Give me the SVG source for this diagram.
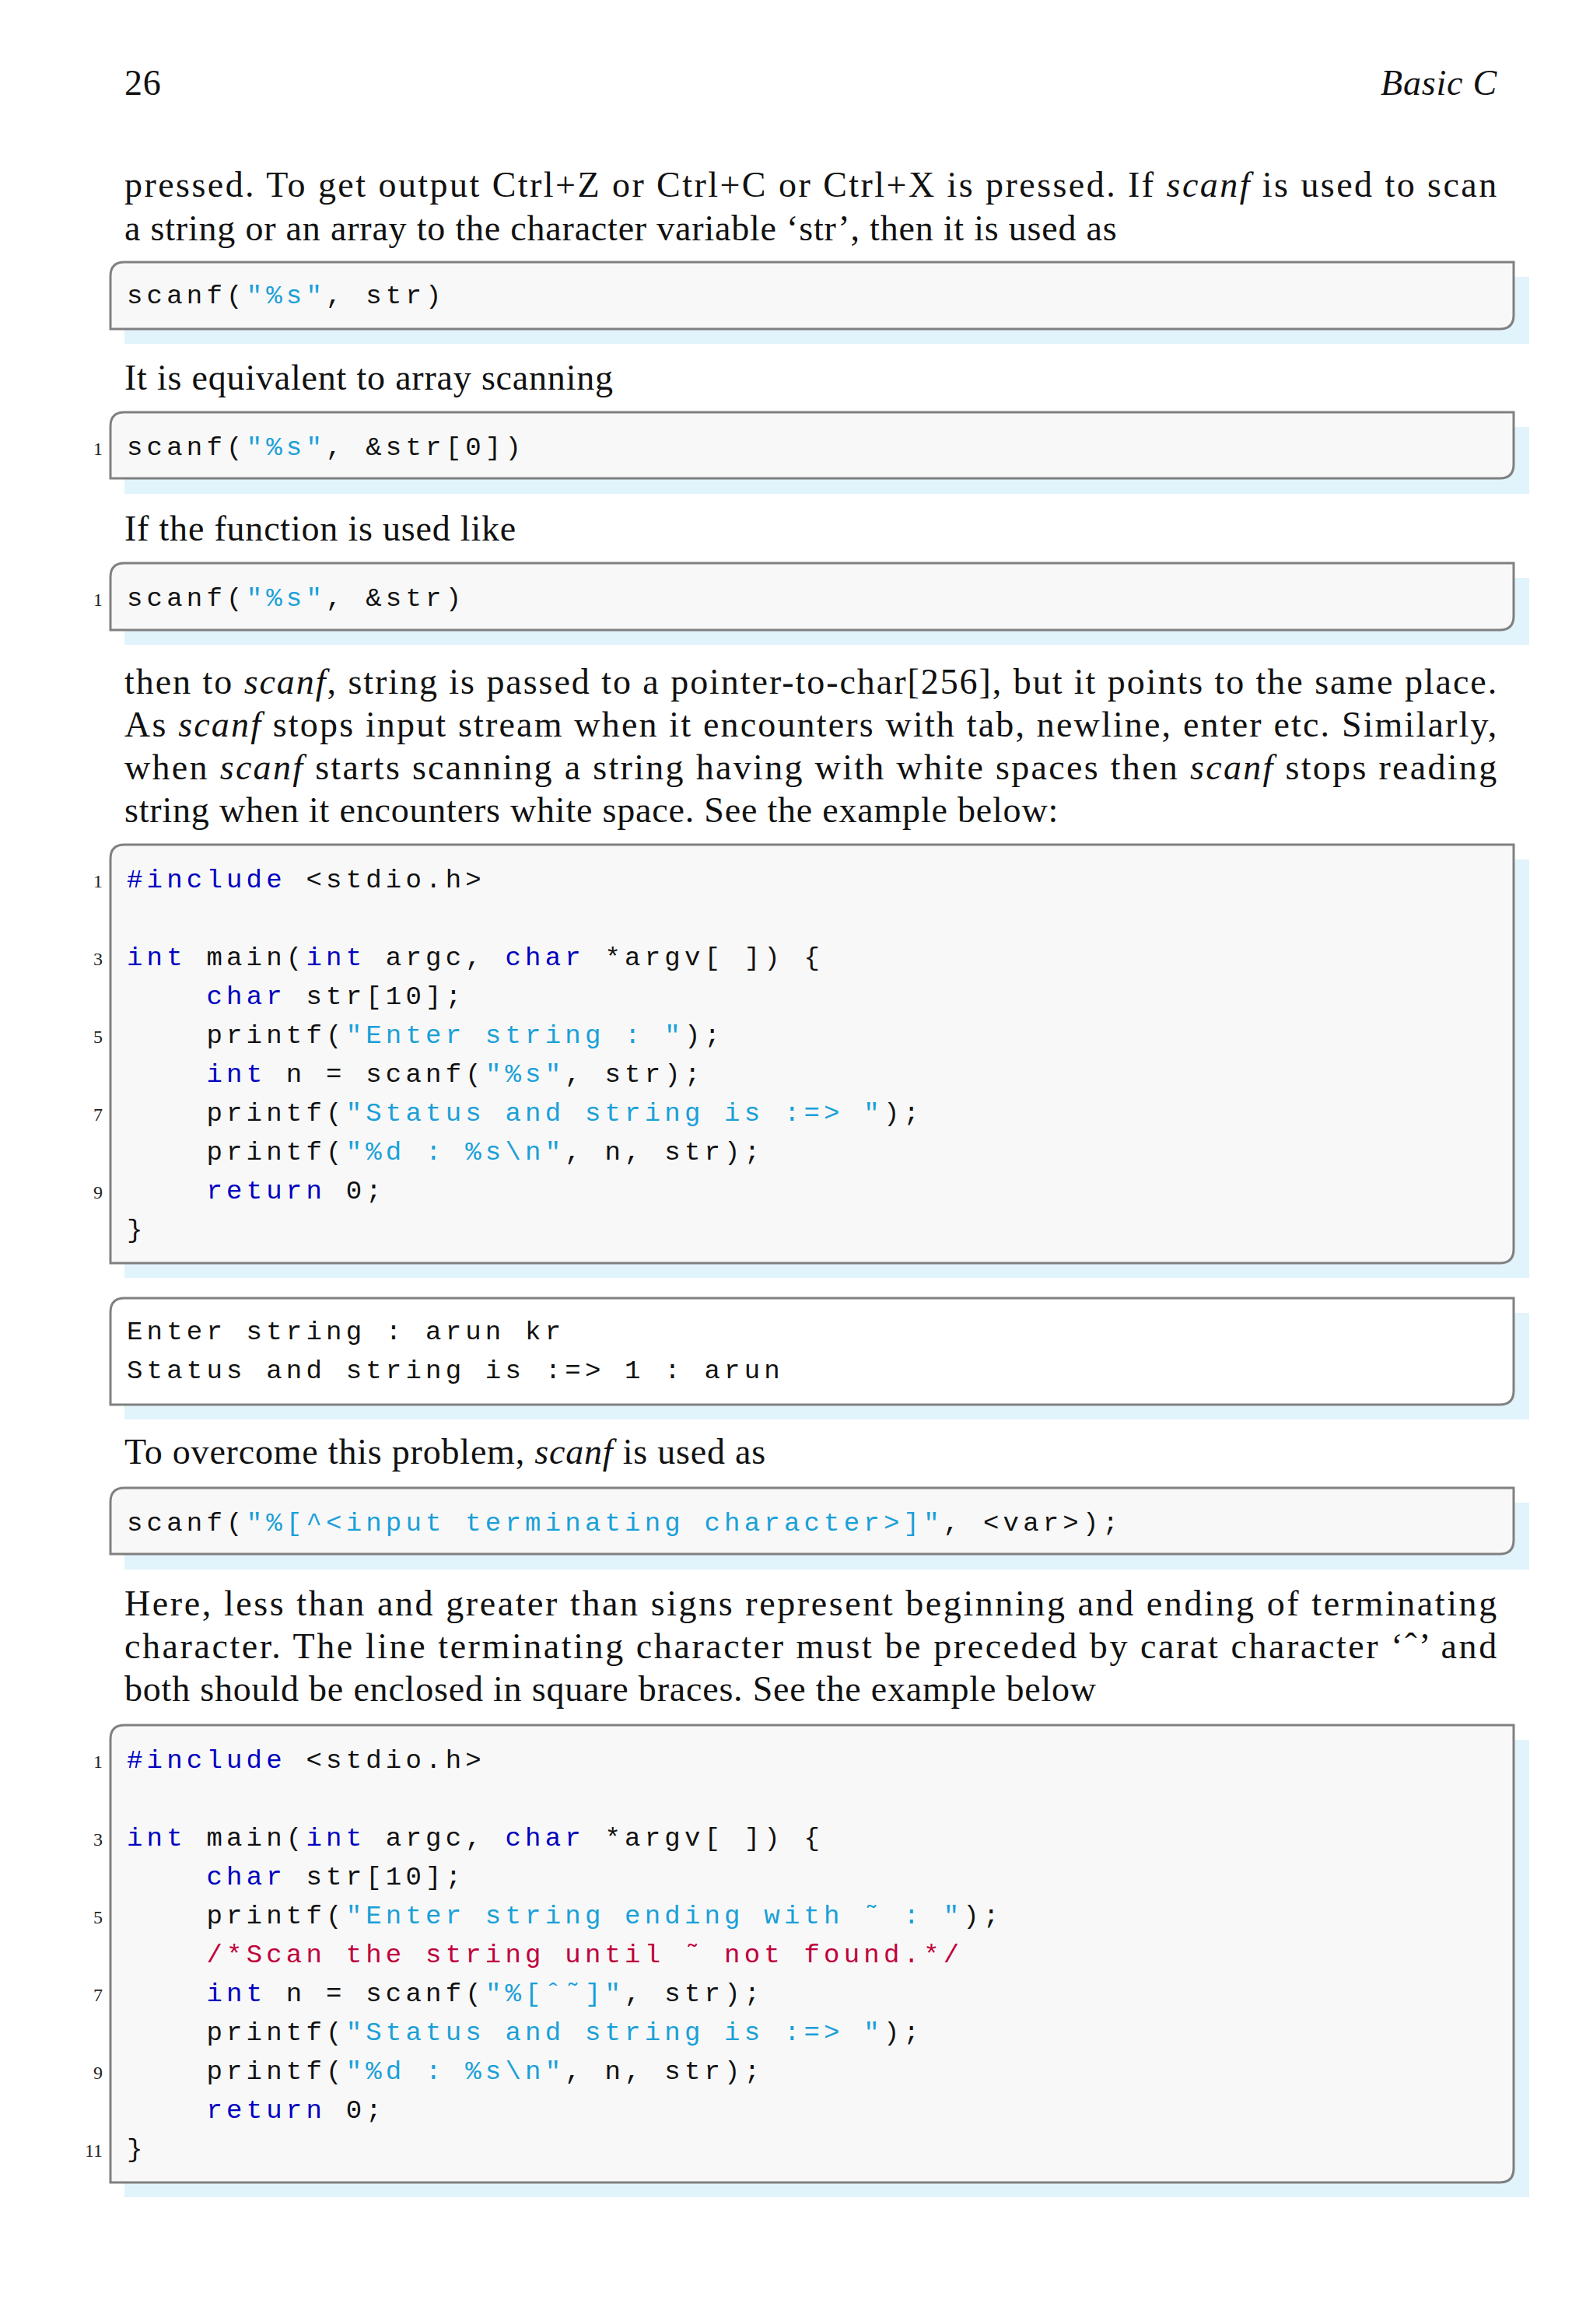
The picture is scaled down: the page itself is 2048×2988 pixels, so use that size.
<svg xmlns="http://www.w3.org/2000/svg" width="2048" height="2988" viewBox="0 0 2048 2988">
<style>
.t{font-family:"Liberation Serif",serif;font-size:46px;letter-spacing:0.8px;fill:#111}
.i{font-style:italic}
.c{font-family:"Liberation Mono",monospace;font-size:34px;letter-spacing:5.2px;fill:#111;white-space:pre}
.k{fill:#0000c0}
.s{fill:#1aa0d8}
.m{fill:#c0003c}
.n{font-family:"Liberation Serif",serif;font-size:24px;fill:#222;text-anchor:end}
.sh{fill:#e1f3fb}
.bx{fill:#f8f8f8;stroke:#808080;stroke-width:3}
.bw{fill:#fff;stroke:#808080;stroke-width:3}
</style>
<rect width="2048" height="2988" fill="#fff"/>
<text class="t" x="160" y="122">26</text>
<text class="t i" x="1925" y="122" text-anchor="end">Basic C</text>

<text class="t" x="160" y="253" textLength="1765" lengthAdjust="spacing">pressed. To get output Ctrl+Z or Ctrl+C or Ctrl+X is pressed. If <tspan class="i">scanf</tspan> is used to scan</text>
<text class="t" x="160" y="309">a string or an array to the character variable ‘str’, then it is used as</text>

<g id="box1">
<rect class="sh" x="160" y="356" width="1806" height="86"/>
<path class="bx" d="M142,423 L142,355 Q142,337 160,337 L1946,337 L1946,405 Q1946,423 1928,423 Z"/>
<text class="c" x="163" y="390">scanf(<tspan class="s">"%s"</tspan>, str)</text>
</g>

<text class="t" x="160" y="501">It is equivalent to array scanning</text>

<g id="box2">
<rect class="sh" x="160" y="549" width="1806" height="86"/>
<path class="bx" d="M142,615 L142,548 Q142,530 160,530 L1946,530 L1946,597 Q1946,615 1928,615 Z"/>
<text class="n" x="132" y="585">1</text>
<text class="c" x="163" y="585">scanf(<tspan class="s">"%s"</tspan>, &amp;str[0])</text>
</g>

<text class="t" x="160" y="695">If the function is used like</text>

<g id="box3">
<rect class="sh" x="160" y="743" width="1806" height="86"/>
<path class="bx" d="M142,810 L142,742 Q142,724 160,724 L1946,724 L1946,792 Q1946,810 1928,810 Z"/>
<text class="n" x="132" y="779">1</text>
<text class="c" x="163" y="779">scanf(<tspan class="s">"%s"</tspan>, &amp;str)</text>
</g>

<text class="t" x="160" y="892" textLength="1765" lengthAdjust="spacing">then to <tspan class="i">scanf</tspan>, string is passed to a pointer-to-char[256], but it points to the same place.</text>
<text class="t" x="160" y="947" textLength="1765" lengthAdjust="spacing">As <tspan class="i">scanf</tspan> stops input stream when it encounters with tab, newline, enter etc. Similarly,</text>
<text class="t" x="160" y="1002" textLength="1765" lengthAdjust="spacing">when <tspan class="i">scanf</tspan> starts scanning a string having with white spaces then <tspan class="i">scanf</tspan> stops reading</text>
<text class="t" x="160" y="1057">string when it encounters white space. See the example below:</text>

<g id="box4">
<rect class="sh" x="160" y="1105" width="1806" height="538"/>
<path class="bx" d="M142,1624 L142,1104 Q142,1086 160,1086 L1946,1086 L1946,1606 Q1946,1624 1928,1624 Z"/>
<text class="n" x="132" y="1141">1</text>
<text class="n" x="132" y="1241">3</text>
<text class="n" x="132" y="1341">5</text>
<text class="n" x="132" y="1441">7</text>
<text class="n" x="132" y="1541">9</text>
<text class="c" x="163" y="1141"><tspan class="k">#include</tspan> &lt;stdio.h&gt;</text>
<text class="c" x="163" y="1241"><tspan class="k">int</tspan> main(<tspan class="k">int</tspan> argc, <tspan class="k">char</tspan> *argv[ ]) {</text>
<text class="c" x="163" y="1291">    <tspan class="k">char</tspan> str[10];</text>
<text class="c" x="163" y="1341">    printf(<tspan class="s">"Enter string : "</tspan>);</text>
<text class="c" x="163" y="1391">    <tspan class="k">int</tspan> n = scanf(<tspan class="s">"%s"</tspan>, str);</text>
<text class="c" x="163" y="1441">    printf(<tspan class="s">"Status and string is :=&gt; "</tspan>);</text>
<text class="c" x="163" y="1491">    printf(<tspan class="s">"%d : %s\n"</tspan>, n, str);</text>
<text class="c" x="163" y="1541">    <tspan class="k">return</tspan> 0;</text>
<text class="c" x="163" y="1591">}</text>
</g>

<g id="box5">
<rect class="sh" x="160" y="1688" width="1806" height="137"/>
<path class="bw" d="M142,1806 L142,1687 Q142,1669 160,1669 L1946,1669 L1946,1788 Q1946,1806 1928,1806 Z"/>
<text class="c" x="163" y="1722">Enter string : arun kr</text>
<text class="c" x="163" y="1772">Status and string is :=&gt; 1 : arun</text>
</g>

<text class="t" x="160" y="1882">To overcome this problem, <tspan class="i">scanf</tspan> is used as</text>

<g id="box6">
<rect class="sh" x="160" y="1932" width="1806" height="86"/>
<path class="bx" d="M142,1998 L142,1931 Q142,1913 160,1913 L1946,1913 L1946,1980 Q1946,1998 1928,1998 Z"/>
<text class="c" x="163" y="1968">scanf(<tspan class="s">"%[^&lt;input terminating character&gt;]"</tspan>, &lt;var&gt;);</text>
</g>

<text class="t" x="160" y="2077" textLength="1765" lengthAdjust="spacing">Here, less than and greater than signs represent beginning and ending of terminating</text>
<text class="t" x="160" y="2132" textLength="1765" lengthAdjust="spacing">character. The line terminating character must be preceded by carat character ‘ˆ’ and</text>
<text class="t" x="160" y="2187">both should be enclosed in square braces. See the example below</text>

<g id="box7">
<rect class="sh" x="160" y="2237" width="1806" height="588"/>
<path class="bx" d="M142,2806 L142,2236 Q142,2218 160,2218 L1946,2218 L1946,2788 Q1946,2806 1928,2806 Z"/>
<text class="n" x="132" y="2273">1</text>
<text class="n" x="132" y="2373">3</text>
<text class="n" x="132" y="2473">5</text>
<text class="n" x="132" y="2573">7</text>
<text class="n" x="132" y="2673">9</text>
<text class="n" x="132" y="2773">11</text>
<text class="c" x="163" y="2273"><tspan class="k">#include</tspan> &lt;stdio.h&gt;</text>
<text class="c" x="163" y="2373"><tspan class="k">int</tspan> main(<tspan class="k">int</tspan> argc, <tspan class="k">char</tspan> *argv[ ]) {</text>
<text class="c" x="163" y="2423">    <tspan class="k">char</tspan> str[10];</text>
<text class="c" x="163" y="2473">    printf(<tspan class="s">"Enter string ending with ˜ : "</tspan>);</text>
<text class="c" x="163" y="2523">    <tspan class="m">/*Scan the string until ˜ not found.*/</tspan></text>
<text class="c" x="163" y="2573">    <tspan class="k">int</tspan> n = scanf(<tspan class="s">"%[ˆ˜]"</tspan>, str);</text>
<text class="c" x="163" y="2623">    printf(<tspan class="s">"Status and string is :=&gt; "</tspan>);</text>
<text class="c" x="163" y="2673">    printf(<tspan class="s">"%d : %s\n"</tspan>, n, str);</text>
<text class="c" x="163" y="2723">    <tspan class="k">return</tspan> 0;</text>
<text class="c" x="163" y="2773">}</text>
</g>
</svg>
